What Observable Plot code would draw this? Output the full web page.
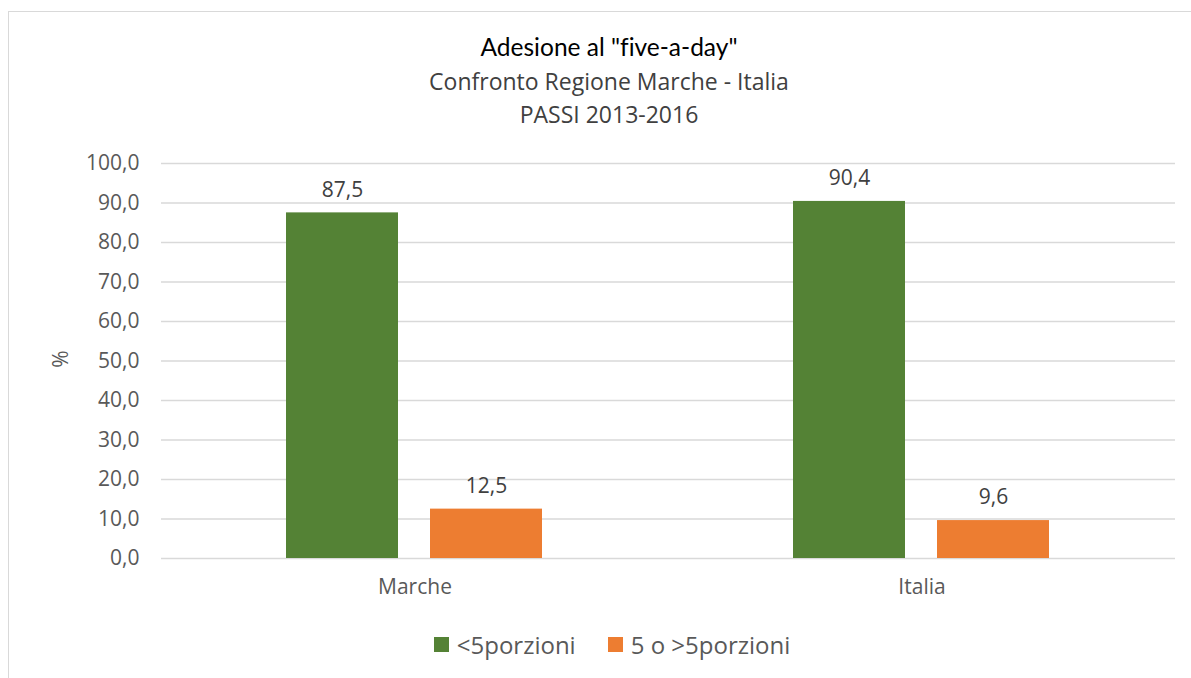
<!DOCTYPE html>
<html>
<head>
<meta charset="utf-8">
<script src="https://cdn.jsdelivr.net/npm/d3@7"></script>
<script src="https://cdn.jsdelivr.net/npm/@observablehq/plot@0.6"></script>
<style>
  html, body { margin: 0; padding: 0; background: #fff; width: 1191px; height: 678px; overflow: hidden; }
  #frame { position: absolute; left: 8px; top: 11px; width: 1300px; height: 800px; border: 1.5px solid #d9d9d9; box-sizing: border-box; }
  .t { position: absolute; left: 0; width: 1218px; text-align: center; white-space: nowrap; font-variant-ligatures: none; }
  #title { top: 32px; font-family: Lato, sans-serif; font-size: 24.5px; color: #000; }
  #sub1 { top: 65px; font-family: "Open Sans", sans-serif; font-size: 23px; color: #404040; }
  #sub2 { top: 98px; font-family: "Open Sans", sans-serif; font-size: 23px; color: #404040; }
  #chart { position: absolute; left: 0; top: 130px; }
  #ylabel { position: absolute; left: 60px; top: 359px; transform: translate(-50%, -50%) rotate(-90deg); font-family: "Open Sans", sans-serif; font-size: 21px; color: #595959; line-height: 1; }
  #legend { position: absolute; top: 628px; left: 0; width: 1224px; display: flex; justify-content: center; gap: 32px; font-family: "Open Sans", sans-serif; font-size: 24px; color: #595959; }
  .li { display: flex; align-items: center; gap: 8px; }
  .sw { width: 15px; height: 15px; display: inline-block; }
</style>
</head>
<body>
<div id="frame"></div>
<div class="t" id="title">Adesione al "five-a-day"</div>
<div class="t" id="sub1">Confronto Regione Marche - Italia</div>
<div class="t" id="sub2">PASSI 2013-2016</div>
<div id="chart"></div>
<div id="ylabel">%</div>
<div id="legend"></div>
<script>
const regions = ["Marche", "Italia"];
const series = ["<5porzioni", "5 o >5porzioni"];
const colors = ["#548235", "#ED7D31"];
const valuesLess5 = [87.5, 90.4];
const values5More = [12.5, 9.6];
const yTicks = [0, 10, 20, 30, 40, 50, 60, 70, 80, 90, 100];

const data = [];
regions.forEach((r, i) => {
  data.push({region: r, series: series[0], value: valuesLess5[i]});
  data.push({region: r, series: series[1], value: values5More[i]});
});
const fmt = d => d.toFixed(1).replace(".", ",");

const plot = Plot.plot({
  width: 1191,
  height: 480,
  marginLeft: 160,
  marginRight: 16,
  marginTop: 33,
  marginBottom: 52,
  style: {fontFamily: "'Open Sans', sans-serif", fontSize: "21px", background: "transparent"},
  fx: {domain: regions, padding: 0, label: null},
  x: {domain: series, paddingInner: 0.2207, paddingOuter: 0.86, axis: null},
  y: {domain: [0, 100], ticks: yTicks},
  color: {domain: series, range: colors},
  marks: [
    Plot.gridY(yTicks, {stroke: "#d9d9d9", strokeOpacity: 1, strokeWidth: 1.3}),
    Plot.axisY({ticks: yTicks, tickSize: 0, tickPadding: 22, tickFormat: fmt, fill: "#595959", fontSize: 21, label: null}),
    Plot.axisFx({anchor: "bottom", tickSize: 0, tickPadding: 21, label: null, fill: "#595959", fontSize: 21}),
    Plot.barY(data, {fx: "region", x: "series", y: "value", fill: "series"}),
    Plot.text(data, {fx: "region", x: "series", y: "value", text: d => fmt(d.value), dy: -23, fill: "#404040", fontSize: 21})
  ]
});
document.getElementById("chart").appendChild(plot);

const leg = document.getElementById("legend");
series.forEach((s, i) => {
  const item = document.createElement("div");
  item.className = "li";
  const sw = document.createElement("span");
  sw.className = "sw";
  sw.style.background = colors[i];
  const tx = document.createElement("span");
  tx.textContent = s;
  item.appendChild(sw);
  item.appendChild(tx);
  leg.appendChild(item);
});
</script>
</body>
</html>
